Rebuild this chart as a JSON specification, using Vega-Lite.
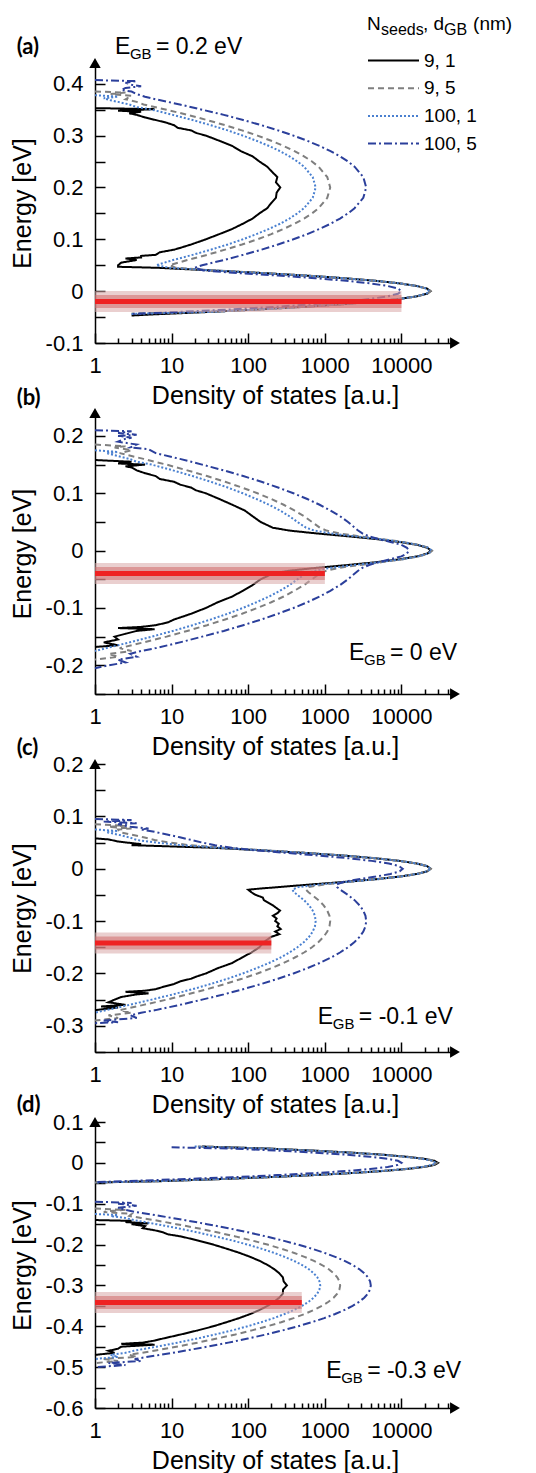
{
"$schema":"https://vega.github.io/schema/vega-lite/v6.json",
"background":"white",
"padding":{"left":10,"top":15,"right":0,"bottom":0},
"config":{"font":"Liberation Sans","view":{"stroke":null},
"axis":{"domainColor":"#000","domainWidth":1.5,"tickColor":"#000","tickWidth":1.5,"labelFont":"Liberation Sans","labelFontSize":22,"labelColor":"#000","titleFont":"Liberation Sans","titleFontSize":25,"titleFontWeight":"normal","titleColor":"#000","grid":false,"labelOverlap":false,"labelFlush":false,"labelBound":false}},
"datasets":{
"bars":[{"p":"a","e":-0.02,"d":1,"d2":10000},{"p":"b","e":-0.04,"d":1,"d2":1000},{"p":"c","e":-0.142,"d":1,"d2":200},{"p":"d","e":-0.342,"d":1,"d2":500}],
"arrows":[{"p":"a","k":"up","d":1,"e":0.44},{"p":"a","k":"right","d":50000,"e":-0.1},{"p":"b","k":"up","d":1,"e":0.24},{"p":"b","k":"right","d":50000,"e":-0.25},{"p":"c","k":"up","d":1,"e":0.2},{"p":"c","k":"right","d":50000,"e":-0.35},{"p":"d","k":"up","d":1,"e":0.1},{"p":"d","k":"right","d":50000,"e":-0.6}],
"lab":[{"p":"a","d":0.095,"e":0.4564,"v":"(a)"},{"p":"b","d":0.095,"e":0.254,"v":"(b)"},{"p":"c","d":0.095,"e":0.217,"v":"(c)"},{"p":"d","d":0.095,"e":0.1245,"v":"(d)"}],
"ann":[{"p":"a","d":1.82,"e":0.4564,"v":"= 0.2 eV"},{"p":"b","d":2065,"e":-0.1906,"v":"= 0 eV"},{"p":"c","d":811,"e":-0.296,"v":"= -0.1 eV"},{"p":"d","d":1040,"e":-0.526,"v":"= -0.3 eV"}],
"leg":[{"p":"a","d":3556,"e":0.5029}],
"curves":[
{"p":"a","s":"9, 1","e":0.353,"d":1},{"p":"a","s":"9, 1","e":0.351,"d":6},{"p":"a","s":"9, 1","e":0.348,"d":2},{"p":"a","s":"9, 1","e":0.346,"d":4},{"p":"a","s":"9, 1","e":0.343,"d":2.8},{"p":"a","s":"9, 1","e":0.34,"d":3.5},{"p":"a","s":"9, 1","e":0.335,"d":4.5},{"p":"a","s":"9, 1","e":0.33,"d":6.2},{"p":"a","s":"9, 1","e":0.325,"d":8.5},{"p":"a","s":"9, 1","e":0.32,"d":10.8},{"p":"a","s":"9, 1","e":0.315,"d":12},{"p":"a","s":"9, 1","e":0.31,"d":18},{"p":"a","s":"9, 1","e":0.305,"d":21},{"p":"a","s":"9, 1","e":0.3,"d":28},{"p":"a","s":"9, 1","e":0.29,"d":42},{"p":"a","s":"9, 1","e":0.28,"d":62},{"p":"a","s":"9, 1","e":0.27,"d":80},{"p":"a","s":"9, 1","e":0.26,"d":114},{"p":"a","s":"9, 1","e":0.25,"d":140},{"p":"a","s":"9, 1","e":0.24,"d":177},{"p":"a","s":"9, 1","e":0.23,"d":205},{"p":"a","s":"9, 1","e":0.22,"d":240},{"p":"a","s":"9, 1","e":0.21,"d":230},{"p":"a","s":"9, 1","e":0.2,"d":262},{"p":"a","s":"9, 1","e":0.19,"d":235},{"p":"a","s":"9, 1","e":0.18,"d":230},{"p":"a","s":"9, 1","e":0.17,"d":200},{"p":"a","s":"9, 1","e":0.16,"d":177},{"p":"a","s":"9, 1","e":0.15,"d":140},{"p":"a","s":"9, 1","e":0.14,"d":114},{"p":"a","s":"9, 1","e":0.13,"d":85},{"p":"a","s":"9, 1","e":0.12,"d":62},{"p":"a","s":"9, 1","e":0.11,"d":42},{"p":"a","s":"9, 1","e":0.1,"d":28},{"p":"a","s":"9, 1","e":0.09,"d":18},{"p":"a","s":"9, 1","e":0.085,"d":14},{"p":"a","s":"9, 1","e":0.08,"d":10.8},{"p":"a","s":"9, 1","e":0.075,"d":7},{"p":"a","s":"9, 1","e":0.07,"d":6.2},{"p":"a","s":"9, 1","e":0.068,"d":4},{"p":"a","s":"9, 1","e":0.065,"d":4},{"p":"a","s":"9, 1","e":0.063,"d":2.5},{"p":"a","s":"9, 1","e":0.06,"d":3.5},{"p":"a","s":"9, 1","e":0.055,"d":2.2},{"p":"a","s":"9, 1","e":0.05,"d":2},{"p":"a","s":"9, 1","e":0.047,"d":2},{"p":"a","s":"9, 1","e":0.045,"d":6.7},{"p":"a","s":"9, 1","e":0.04,"d":33},{"p":"a","s":"9, 1","e":0.035,"d":150},{"p":"a","s":"9, 1","e":0.03,"d":575},{"p":"a","s":"9, 1","e":0.025,"d":1800},{"p":"a","s":"9, 1","e":0.02,"d":4570},{"p":"a","s":"9, 1","e":0.015,"d":9400},{"p":"a","s":"9, 1","e":0.01,"d":15800},{"p":"a","s":"9, 1","e":0.005,"d":21600},{"p":"a","s":"9, 1","e":0,"d":24000},{"p":"a","s":"9, 1","e":-0.005,"d":21600},{"p":"a","s":"9, 1","e":-0.01,"d":15800},{"p":"a","s":"9, 1","e":-0.015,"d":9400},{"p":"a","s":"9, 1","e":-0.02,"d":4570},{"p":"a","s":"9, 1","e":-0.025,"d":1800},{"p":"a","s":"9, 1","e":-0.03,"d":575},{"p":"a","s":"9, 1","e":-0.035,"d":150},{"p":"a","s":"9, 1","e":-0.04,"d":32},{"p":"a","s":"9, 1","e":-0.045,"d":5.4},{"p":"a","s":"9, 1","e":-0.047,"d":3},
{"p":"a","s":"9, 5","e":0.385,"d":1},{"p":"a","s":"9, 5","e":0.383,"d":2.5},{"p":"a","s":"9, 5","e":0.38,"d":1.6},{"p":"a","s":"9, 5","e":0.377,"d":3},{"p":"a","s":"9, 5","e":0.37,"d":2.5},{"p":"a","s":"9, 5","e":0.365,"d":3.5},{"p":"a","s":"9, 5","e":0.36,"d":4.3},{"p":"a","s":"9, 5","e":0.355,"d":6},{"p":"a","s":"9, 5","e":0.35,"d":8.6},{"p":"a","s":"9, 5","e":0.34,"d":16},{"p":"a","s":"9, 5","e":0.33,"d":29},{"p":"a","s":"9, 5","e":0.32,"d":50},{"p":"a","s":"9, 5","e":0.31,"d":83},{"p":"a","s":"9, 5","e":0.3,"d":132},{"p":"a","s":"9, 5","e":0.29,"d":200},{"p":"a","s":"9, 5","e":0.28,"d":290},{"p":"a","s":"9, 5","e":0.27,"d":402},{"p":"a","s":"9, 5","e":0.26,"d":535},{"p":"a","s":"9, 5","e":0.25,"d":680},{"p":"a","s":"9, 5","e":0.24,"d":828},{"p":"a","s":"9, 5","e":0.22,"d":1076},{"p":"a","s":"9, 5","e":0.2,"d":1175},{"p":"a","s":"9, 5","e":0.18,"d":1076},{"p":"a","s":"9, 5","e":0.16,"d":828},{"p":"a","s":"9, 5","e":0.15,"d":680},{"p":"a","s":"9, 5","e":0.14,"d":535},{"p":"a","s":"9, 5","e":0.13,"d":402},{"p":"a","s":"9, 5","e":0.12,"d":290},{"p":"a","s":"9, 5","e":0.11,"d":200},{"p":"a","s":"9, 5","e":0.1,"d":132},{"p":"a","s":"9, 5","e":0.09,"d":83},{"p":"a","s":"9, 5","e":0.08,"d":50},{"p":"a","s":"9, 5","e":0.07,"d":29},{"p":"a","s":"9, 5","e":0.06,"d":16},{"p":"a","s":"9, 5","e":0.05,"d":9.4},{"p":"a","s":"9, 5","e":0.045,"d":11.4},{"p":"a","s":"9, 5","e":0.04,"d":36},{"p":"a","s":"9, 5","e":0.035,"d":152},{"p":"a","s":"9, 5","e":0.03,"d":576},{"p":"a","s":"9, 5","e":0.025,"d":1800},{"p":"a","s":"9, 5","e":0.02,"d":4570},{"p":"a","s":"9, 5","e":0.015,"d":9400},{"p":"a","s":"9, 5","e":0.01,"d":15800},{"p":"a","s":"9, 5","e":0.005,"d":21600},{"p":"a","s":"9, 5","e":0,"d":24000},{"p":"a","s":"9, 5","e":-0.005,"d":21600},{"p":"a","s":"9, 5","e":-0.01,"d":15800},{"p":"a","s":"9, 5","e":-0.015,"d":9400},{"p":"a","s":"9, 5","e":-0.02,"d":4570},{"p":"a","s":"9, 5","e":-0.025,"d":1800},{"p":"a","s":"9, 5","e":-0.03,"d":575},{"p":"a","s":"9, 5","e":-0.035,"d":150},{"p":"a","s":"9, 5","e":-0.04,"d":32},{"p":"a","s":"9, 5","e":-0.043,"d":3},
{"p":"a","s":"100, 1","e":0.378,"d":1},{"p":"a","s":"100, 1","e":0.375,"d":2},{"p":"a","s":"100, 1","e":0.372,"d":1.3},{"p":"a","s":"100, 1","e":0.368,"d":1.6},{"p":"a","s":"100, 1","e":0.365,"d":2},{"p":"a","s":"100, 1","e":0.36,"d":2.8},{"p":"a","s":"100, 1","e":0.355,"d":3.5},{"p":"a","s":"100, 1","e":0.35,"d":5.5},{"p":"a","s":"100, 1","e":0.34,"d":10.4},{"p":"a","s":"100, 1","e":0.33,"d":18.8},{"p":"a","s":"100, 1","e":0.32,"d":32.5},{"p":"a","s":"100, 1","e":0.31,"d":54},{"p":"a","s":"100, 1","e":0.3,"d":85},{"p":"a","s":"100, 1","e":0.29,"d":128},{"p":"a","s":"100, 1","e":0.28,"d":187},{"p":"a","s":"100, 1","e":0.27,"d":260},{"p":"a","s":"100, 1","e":0.26,"d":345},{"p":"a","s":"100, 1","e":0.25,"d":439},{"p":"a","s":"100, 1","e":0.24,"d":535},{"p":"a","s":"100, 1","e":0.22,"d":695},{"p":"a","s":"100, 1","e":0.2,"d":759},{"p":"a","s":"100, 1","e":0.18,"d":695},{"p":"a","s":"100, 1","e":0.16,"d":535},{"p":"a","s":"100, 1","e":0.15,"d":439},{"p":"a","s":"100, 1","e":0.14,"d":345},{"p":"a","s":"100, 1","e":0.13,"d":260},{"p":"a","s":"100, 1","e":0.12,"d":187},{"p":"a","s":"100, 1","e":0.11,"d":128},{"p":"a","s":"100, 1","e":0.1,"d":85},{"p":"a","s":"100, 1","e":0.09,"d":54},{"p":"a","s":"100, 1","e":0.08,"d":32.5},{"p":"a","s":"100, 1","e":0.07,"d":18.8},{"p":"a","s":"100, 1","e":0.06,"d":10.4},{"p":"a","s":"100, 1","e":0.05,"d":6.3},{"p":"a","s":"100, 1","e":0.045,"d":9.4},{"p":"a","s":"100, 1","e":0.04,"d":35},{"p":"a","s":"100, 1","e":0.035,"d":150},{"p":"a","s":"100, 1","e":0.03,"d":575},{"p":"a","s":"100, 1","e":0.025,"d":1800},{"p":"a","s":"100, 1","e":0.02,"d":4570},{"p":"a","s":"100, 1","e":0.015,"d":9400},{"p":"a","s":"100, 1","e":0.01,"d":15800},{"p":"a","s":"100, 1","e":0.005,"d":21000},{"p":"a","s":"100, 1","e":0,"d":23000},{"p":"a","s":"100, 1","e":-0.005,"d":21000},{"p":"a","s":"100, 1","e":-0.01,"d":15800},{"p":"a","s":"100, 1","e":-0.015,"d":9400},{"p":"a","s":"100, 1","e":-0.02,"d":4570},{"p":"a","s":"100, 1","e":-0.025,"d":1800},{"p":"a","s":"100, 1","e":-0.03,"d":575},{"p":"a","s":"100, 1","e":-0.035,"d":150},{"p":"a","s":"100, 1","e":-0.04,"d":32},{"p":"a","s":"100, 1","e":-0.044,"d":3},
{"p":"a","s":"100, 5","e":0.407,"d":1},{"p":"a","s":"100, 5","e":0.405,"d":3.5},{"p":"a","s":"100, 5","e":0.402,"d":2.5},{"p":"a","s":"100, 5","e":0.398,"d":3},{"p":"a","s":"100, 5","e":0.395,"d":4},{"p":"a","s":"100, 5","e":0.392,"d":2.5},{"p":"a","s":"100, 5","e":0.388,"d":2.2},{"p":"a","s":"100, 5","e":0.385,"d":3},{"p":"a","s":"100, 5","e":0.38,"d":3.5},{"p":"a","s":"100, 5","e":0.375,"d":4.5},{"p":"a","s":"100, 5","e":0.37,"d":6.2},{"p":"a","s":"100, 5","e":0.36,"d":12.8},{"p":"a","s":"100, 5","e":0.35,"d":25},{"p":"a","s":"100, 5","e":0.34,"d":48},{"p":"a","s":"100, 5","e":0.33,"d":86},{"p":"a","s":"100, 5","e":0.32,"d":149},{"p":"a","s":"100, 5","e":0.31,"d":245},{"p":"a","s":"100, 5","e":0.3,"d":389},{"p":"a","s":"100, 5","e":0.29,"d":590},{"p":"a","s":"100, 5","e":0.28,"d":855},{"p":"a","s":"100, 5","e":0.27,"d":1187},{"p":"a","s":"100, 5","e":0.26,"d":1578},{"p":"a","s":"100, 5","e":0.25,"d":2007},{"p":"a","s":"100, 5","e":0.24,"d":2443},{"p":"a","s":"100, 5","e":0.22,"d":3177},{"p":"a","s":"100, 5","e":0.2,"d":3467},{"p":"a","s":"100, 5","e":0.18,"d":3177},{"p":"a","s":"100, 5","e":0.16,"d":2443},{"p":"a","s":"100, 5","e":0.15,"d":2007},{"p":"a","s":"100, 5","e":0.14,"d":1578},{"p":"a","s":"100, 5","e":0.13,"d":1187},{"p":"a","s":"100, 5","e":0.12,"d":855},{"p":"a","s":"100, 5","e":0.11,"d":590},{"p":"a","s":"100, 5","e":0.1,"d":389},{"p":"a","s":"100, 5","e":0.09,"d":245},{"p":"a","s":"100, 5","e":0.08,"d":149},{"p":"a","s":"100, 5","e":0.07,"d":86},{"p":"a","s":"100, 5","e":0.06,"d":48},{"p":"a","s":"100, 5","e":0.05,"d":25},{"p":"a","s":"100, 5","e":0.045,"d":20},{"p":"a","s":"100, 5","e":0.04,"d":26},{"p":"a","s":"100, 5","e":0.035,"d":71},{"p":"a","s":"100, 5","e":0.03,"d":245},{"p":"a","s":"100, 5","e":0.025,"d":750},{"p":"a","s":"100, 5","e":0.02,"d":1900},{"p":"a","s":"100, 5","e":0.015,"d":3900},{"p":"a","s":"100, 5","e":0.01,"d":6600},{"p":"a","s":"100, 5","e":0.005,"d":9000},{"p":"a","s":"100, 5","e":0,"d":10000},{"p":"a","s":"100, 5","e":-0.005,"d":9000},{"p":"a","s":"100, 5","e":-0.01,"d":6600},{"p":"a","s":"100, 5","e":-0.015,"d":3900},{"p":"a","s":"100, 5","e":-0.02,"d":1900},{"p":"a","s":"100, 5","e":-0.025,"d":750},{"p":"a","s":"100, 5","e":-0.03,"d":240},{"p":"a","s":"100, 5","e":-0.035,"d":62},{"p":"a","s":"100, 5","e":-0.04,"d":13},{"p":"a","s":"100, 5","e":-0.044,"d":3},
{"p":"b","s":"9, 1","e":0.158,"d":1},{"p":"b","s":"9, 1","e":0.155,"d":3},{"p":"b","s":"9, 1","e":0.152,"d":2},{"p":"b","s":"9, 1","e":0.15,"d":4.5},{"p":"b","s":"9, 1","e":0.147,"d":2.5},{"p":"b","s":"9, 1","e":0.145,"d":3},{"p":"b","s":"9, 1","e":0.14,"d":3.5},{"p":"b","s":"9, 1","e":0.135,"d":4.5},{"p":"b","s":"9, 1","e":0.13,"d":6.2},{"p":"b","s":"9, 1","e":0.125,"d":7},{"p":"b","s":"9, 1","e":0.12,"d":10.8},{"p":"b","s":"9, 1","e":0.115,"d":13},{"p":"b","s":"9, 1","e":0.11,"d":18},{"p":"b","s":"9, 1","e":0.105,"d":21},{"p":"b","s":"9, 1","e":0.1,"d":28},{"p":"b","s":"9, 1","e":0.09,"d":42},{"p":"b","s":"9, 1","e":0.08,"d":62},{"p":"b","s":"9, 1","e":0.07,"d":90},{"p":"b","s":"9, 1","e":0.06,"d":114},{"p":"b","s":"9, 1","e":0.05,"d":145},{"p":"b","s":"9, 1","e":0.04,"d":209},{"p":"b","s":"9, 1","e":0.035,"d":342},{"p":"b","s":"9, 1","e":0.03,"d":781},{"p":"b","s":"9, 1","e":0.025,"d":2020},{"p":"b","s":"9, 1","e":0.02,"d":4800},{"p":"b","s":"9, 1","e":0.015,"d":9640},{"p":"b","s":"9, 1","e":0.01,"d":16045},{"p":"b","s":"9, 1","e":0.005,"d":21850},{"p":"b","s":"9, 1","e":0,"d":24250},{"p":"b","s":"9, 1","e":-0.005,"d":21850},{"p":"b","s":"9, 1","e":-0.01,"d":16045},{"p":"b","s":"9, 1","e":-0.015,"d":9640},{"p":"b","s":"9, 1","e":-0.02,"d":4800},{"p":"b","s":"9, 1","e":-0.025,"d":2020},{"p":"b","s":"9, 1","e":-0.03,"d":781},{"p":"b","s":"9, 1","e":-0.035,"d":342},{"p":"b","s":"9, 1","e":-0.04,"d":209},{"p":"b","s":"9, 1","e":-0.05,"d":145},{"p":"b","s":"9, 1","e":-0.06,"d":114},{"p":"b","s":"9, 1","e":-0.07,"d":85},{"p":"b","s":"9, 1","e":-0.08,"d":62},{"p":"b","s":"9, 1","e":-0.09,"d":40},{"p":"b","s":"9, 1","e":-0.1,"d":28},{"p":"b","s":"9, 1","e":-0.11,"d":18},{"p":"b","s":"9, 1","e":-0.115,"d":14},{"p":"b","s":"9, 1","e":-0.12,"d":10.8},{"p":"b","s":"9, 1","e":-0.125,"d":9},{"p":"b","s":"9, 1","e":-0.13,"d":6.2},{"p":"b","s":"9, 1","e":-0.133,"d":4},{"p":"b","s":"9, 1","e":-0.135,"d":2},{"p":"b","s":"9, 1","e":-0.137,"d":6},{"p":"b","s":"9, 1","e":-0.14,"d":3.5},{"p":"b","s":"9, 1","e":-0.145,"d":2.5},{"p":"b","s":"9, 1","e":-0.15,"d":1.8},{"p":"b","s":"9, 1","e":-0.155,"d":2},{"p":"b","s":"9, 1","e":-0.16,"d":1.3},{"p":"b","s":"9, 1","e":-0.165,"d":2},{"p":"b","s":"9, 1","e":-0.168,"d":1},
{"p":"b","s":"9, 5","e":0.185,"d":1},{"p":"b","s":"9, 5","e":0.182,"d":2.5},{"p":"b","s":"9, 5","e":0.18,"d":1.8},{"p":"b","s":"9, 5","e":0.175,"d":3},{"p":"b","s":"9, 5","e":0.17,"d":2.1},{"p":"b","s":"9, 5","e":0.165,"d":3},{"p":"b","s":"9, 5","e":0.16,"d":4.3},{"p":"b","s":"9, 5","e":0.155,"d":6},{"p":"b","s":"9, 5","e":0.15,"d":8.6},{"p":"b","s":"9, 5","e":0.14,"d":16},{"p":"b","s":"9, 5","e":0.13,"d":29},{"p":"b","s":"9, 5","e":0.12,"d":50},{"p":"b","s":"9, 5","e":0.11,"d":83},{"p":"b","s":"9, 5","e":0.1,"d":132},{"p":"b","s":"9, 5","e":0.09,"d":200},{"p":"b","s":"9, 5","e":0.08,"d":290},{"p":"b","s":"9, 5","e":0.07,"d":400},{"p":"b","s":"9, 5","e":0.06,"d":535},{"p":"b","s":"9, 5","e":0.05,"d":680},{"p":"b","s":"9, 5","e":0.04,"d":860},{"p":"b","s":"9, 5","e":0.035,"d":1050},{"p":"b","s":"9, 5","e":0.03,"d":1540},{"p":"b","s":"9, 5","e":0.025,"d":2826},{"p":"b","s":"9, 5","e":0.02,"d":5646},{"p":"b","s":"9, 5","e":0.015,"d":10519},{"p":"b","s":"9, 5","e":0.01,"d":16950},{"p":"b","s":"9, 5","e":0.005,"d":22770},{"p":"b","s":"9, 5","e":0,"d":25175},{"p":"b","s":"9, 5","e":-0.005,"d":22770},{"p":"b","s":"9, 5","e":-0.01,"d":16950},{"p":"b","s":"9, 5","e":-0.015,"d":10519},{"p":"b","s":"9, 5","e":-0.02,"d":5646},{"p":"b","s":"9, 5","e":-0.025,"d":2826},{"p":"b","s":"9, 5","e":-0.03,"d":1540},{"p":"b","s":"9, 5","e":-0.035,"d":1050},{"p":"b","s":"9, 5","e":-0.04,"d":860},{"p":"b","s":"9, 5","e":-0.05,"d":680},{"p":"b","s":"9, 5","e":-0.06,"d":535},{"p":"b","s":"9, 5","e":-0.07,"d":400},{"p":"b","s":"9, 5","e":-0.08,"d":290},{"p":"b","s":"9, 5","e":-0.09,"d":200},{"p":"b","s":"9, 5","e":-0.1,"d":132},{"p":"b","s":"9, 5","e":-0.11,"d":83},{"p":"b","s":"9, 5","e":-0.12,"d":50},{"p":"b","s":"9, 5","e":-0.13,"d":29},{"p":"b","s":"9, 5","e":-0.14,"d":16},{"p":"b","s":"9, 5","e":-0.15,"d":8.6},{"p":"b","s":"9, 5","e":-0.16,"d":4.3},{"p":"b","s":"9, 5","e":-0.17,"d":2.1},{"p":"b","s":"9, 5","e":-0.175,"d":3},{"p":"b","s":"9, 5","e":-0.18,"d":1.5},{"p":"b","s":"9, 5","e":-0.185,"d":2},{"p":"b","s":"9, 5","e":-0.19,"d":1},
{"p":"b","s":"100, 1","e":0.175,"d":1},{"p":"b","s":"100, 1","e":0.172,"d":2},{"p":"b","s":"100, 1","e":0.17,"d":1.4},{"p":"b","s":"100, 1","e":0.165,"d":2},{"p":"b","s":"100, 1","e":0.16,"d":2.8},{"p":"b","s":"100, 1","e":0.155,"d":3.5},{"p":"b","s":"100, 1","e":0.15,"d":5.5},{"p":"b","s":"100, 1","e":0.14,"d":10.4},{"p":"b","s":"100, 1","e":0.13,"d":18.8},{"p":"b","s":"100, 1","e":0.12,"d":32.5},{"p":"b","s":"100, 1","e":0.11,"d":54},{"p":"b","s":"100, 1","e":0.1,"d":85},{"p":"b","s":"100, 1","e":0.09,"d":128},{"p":"b","s":"100, 1","e":0.08,"d":187},{"p":"b","s":"100, 1","e":0.07,"d":260},{"p":"b","s":"100, 1","e":0.06,"d":345},{"p":"b","s":"100, 1","e":0.05,"d":439},{"p":"b","s":"100, 1","e":0.04,"d":567},{"p":"b","s":"100, 1","e":0.035,"d":731},{"p":"b","s":"100, 1","e":0.03,"d":1198},{"p":"b","s":"100, 1","e":0.025,"d":2462},{"p":"b","s":"100, 1","e":0.02,"d":5265},{"p":"b","s":"100, 1","e":0.015,"d":10123},{"p":"b","s":"100, 1","e":0.01,"d":16543},{"p":"b","s":"100, 1","e":0.005,"d":22355},{"p":"b","s":"100, 1","e":0,"d":24759},{"p":"b","s":"100, 1","e":-0.005,"d":22355},{"p":"b","s":"100, 1","e":-0.01,"d":16543},{"p":"b","s":"100, 1","e":-0.015,"d":10123},{"p":"b","s":"100, 1","e":-0.02,"d":5265},{"p":"b","s":"100, 1","e":-0.025,"d":2462},{"p":"b","s":"100, 1","e":-0.03,"d":1198},{"p":"b","s":"100, 1","e":-0.035,"d":731},{"p":"b","s":"100, 1","e":-0.04,"d":567},{"p":"b","s":"100, 1","e":-0.05,"d":439},{"p":"b","s":"100, 1","e":-0.06,"d":345},{"p":"b","s":"100, 1","e":-0.07,"d":260},{"p":"b","s":"100, 1","e":-0.08,"d":187},{"p":"b","s":"100, 1","e":-0.09,"d":128},{"p":"b","s":"100, 1","e":-0.1,"d":85},{"p":"b","s":"100, 1","e":-0.11,"d":54},{"p":"b","s":"100, 1","e":-0.12,"d":32.5},{"p":"b","s":"100, 1","e":-0.13,"d":18.8},{"p":"b","s":"100, 1","e":-0.14,"d":10.4},{"p":"b","s":"100, 1","e":-0.15,"d":5.5},{"p":"b","s":"100, 1","e":-0.16,"d":2.8},{"p":"b","s":"100, 1","e":-0.165,"d":2},{"p":"b","s":"100, 1","e":-0.17,"d":1.4},{"p":"b","s":"100, 1","e":-0.175,"d":1},
{"p":"b","s":"100, 5","e":0.21,"d":1},{"p":"b","s":"100, 5","e":0.208,"d":3},{"p":"b","s":"100, 5","e":0.205,"d":2},{"p":"b","s":"100, 5","e":0.202,"d":3.5},{"p":"b","s":"100, 5","e":0.2,"d":2},{"p":"b","s":"100, 5","e":0.197,"d":3},{"p":"b","s":"100, 5","e":0.195,"d":2.5},{"p":"b","s":"100, 5","e":0.19,"d":2},{"p":"b","s":"100, 5","e":0.185,"d":3.5},{"p":"b","s":"100, 5","e":0.18,"d":2.9},{"p":"b","s":"100, 5","e":0.177,"d":5},{"p":"b","s":"100, 5","e":0.17,"d":6.2},{"p":"b","s":"100, 5","e":0.16,"d":12.8},{"p":"b","s":"100, 5","e":0.15,"d":25},{"p":"b","s":"100, 5","e":0.14,"d":48},{"p":"b","s":"100, 5","e":0.13,"d":86},{"p":"b","s":"100, 5","e":0.12,"d":149},{"p":"b","s":"100, 5","e":0.11,"d":245},{"p":"b","s":"100, 5","e":0.1,"d":389},{"p":"b","s":"100, 5","e":0.09,"d":590},{"p":"b","s":"100, 5","e":0.08,"d":855},{"p":"b","s":"100, 5","e":0.07,"d":1180},{"p":"b","s":"100, 5","e":0.06,"d":1578},{"p":"b","s":"100, 5","e":0.05,"d":2007},{"p":"b","s":"100, 5","e":0.04,"d":2456},{"p":"b","s":"100, 5","e":0.035,"d":2717},{"p":"b","s":"100, 5","e":0.03,"d":3088},{"p":"b","s":"100, 5","e":0.025,"d":3777},{"p":"b","s":"100, 5","e":0.02,"d":5077},{"p":"b","s":"100, 5","e":0.015,"d":7204},{"p":"b","s":"100, 5","e":0.01,"d":9992},{"p":"b","s":"100, 5","e":0.005,"d":11800},{"p":"b","s":"100, 5","e":0,"d":12500},{"p":"b","s":"100, 5","e":-0.005,"d":11800},{"p":"b","s":"100, 5","e":-0.01,"d":9992},{"p":"b","s":"100, 5","e":-0.015,"d":7204},{"p":"b","s":"100, 5","e":-0.02,"d":5077},{"p":"b","s":"100, 5","e":-0.025,"d":3777},{"p":"b","s":"100, 5","e":-0.03,"d":3088},{"p":"b","s":"100, 5","e":-0.035,"d":2717},{"p":"b","s":"100, 5","e":-0.04,"d":2456},{"p":"b","s":"100, 5","e":-0.05,"d":2007},{"p":"b","s":"100, 5","e":-0.06,"d":1578},{"p":"b","s":"100, 5","e":-0.07,"d":1180},{"p":"b","s":"100, 5","e":-0.08,"d":855},{"p":"b","s":"100, 5","e":-0.09,"d":590},{"p":"b","s":"100, 5","e":-0.1,"d":389},{"p":"b","s":"100, 5","e":-0.11,"d":245},{"p":"b","s":"100, 5","e":-0.12,"d":149},{"p":"b","s":"100, 5","e":-0.13,"d":86},{"p":"b","s":"100, 5","e":-0.14,"d":48},{"p":"b","s":"100, 5","e":-0.15,"d":25},{"p":"b","s":"100, 5","e":-0.16,"d":12.8},{"p":"b","s":"100, 5","e":-0.17,"d":6.2},{"p":"b","s":"100, 5","e":-0.175,"d":4},{"p":"b","s":"100, 5","e":-0.18,"d":2.9},{"p":"b","s":"100, 5","e":-0.185,"d":3.5},{"p":"b","s":"100, 5","e":-0.19,"d":2},{"p":"b","s":"100, 5","e":-0.195,"d":2.5},{"p":"b","s":"100, 5","e":-0.2,"d":1.5},{"p":"b","s":"100, 5","e":-0.205,"d":1},
{"p":"c","s":"9, 1","e":0.058,"d":1},{"p":"c","s":"9, 1","e":0.056,"d":1.5},{"p":"c","s":"9, 1","e":0.052,"d":2},{"p":"c","s":"9, 1","e":0.05,"d":2.6},{"p":"c","s":"9, 1","e":0.047,"d":4},{"p":"c","s":"9, 1","e":0.045,"d":3},{"p":"c","s":"9, 1","e":0.043,"d":8},{"p":"c","s":"9, 1","e":0.04,"d":35.5},{"p":"c","s":"9, 1","e":0.035,"d":155},{"p":"c","s":"9, 1","e":0.03,"d":581},{"p":"c","s":"9, 1","e":0.025,"d":1808},{"p":"c","s":"9, 1","e":0.02,"d":4581},{"p":"c","s":"9, 1","e":0.015,"d":9410},{"p":"c","s":"9, 1","e":0.01,"d":15818},{"p":"c","s":"9, 1","e":0.005,"d":21620},{"p":"c","s":"9, 1","e":0,"d":24028},{"p":"c","s":"9, 1","e":-0.005,"d":21635},{"p":"c","s":"9, 1","e":-0.01,"d":15845},{"p":"c","s":"9, 1","e":-0.015,"d":9455},{"p":"c","s":"9, 1","e":-0.02,"d":4632},{"p":"c","s":"9, 1","e":-0.025,"d":1875},{"p":"c","s":"9, 1","e":-0.03,"d":664},{"p":"c","s":"9, 1","e":-0.035,"d":250},{"p":"c","s":"9, 1","e":-0.038,"d":140},{"p":"c","s":"9, 1","e":-0.04,"d":100},{"p":"c","s":"9, 1","e":-0.045,"d":110},{"p":"c","s":"9, 1","e":-0.05,"d":125},{"p":"c","s":"9, 1","e":-0.055,"d":155},{"p":"c","s":"9, 1","e":-0.06,"d":160},{"p":"c","s":"9, 1","e":-0.07,"d":210},{"p":"c","s":"9, 1","e":-0.08,"d":260},{"p":"c","s":"9, 1","e":-0.085,"d":240},{"p":"c","s":"9, 1","e":-0.09,"d":210},{"p":"c","s":"9, 1","e":-0.095,"d":235},{"p":"c","s":"9, 1","e":-0.1,"d":225},{"p":"c","s":"9, 1","e":-0.105,"d":250},{"p":"c","s":"9, 1","e":-0.11,"d":240},{"p":"c","s":"9, 1","e":-0.115,"d":265},{"p":"c","s":"9, 1","e":-0.12,"d":225},{"p":"c","s":"9, 1","e":-0.125,"d":255},{"p":"c","s":"9, 1","e":-0.13,"d":200},{"p":"c","s":"9, 1","e":-0.14,"d":160},{"p":"c","s":"9, 1","e":-0.15,"d":140},{"p":"c","s":"9, 1","e":-0.16,"d":110},{"p":"c","s":"9, 1","e":-0.17,"d":82},{"p":"c","s":"9, 1","e":-0.18,"d":62},{"p":"c","s":"9, 1","e":-0.19,"d":40},{"p":"c","s":"9, 1","e":-0.2,"d":28},{"p":"c","s":"9, 1","e":-0.205,"d":22},{"p":"c","s":"9, 1","e":-0.21,"d":18},{"p":"c","s":"9, 1","e":-0.215,"d":13},{"p":"c","s":"9, 1","e":-0.22,"d":10.8},{"p":"c","s":"9, 1","e":-0.225,"d":8},{"p":"c","s":"9, 1","e":-0.23,"d":6.2},{"p":"c","s":"9, 1","e":-0.233,"d":4.5},{"p":"c","s":"9, 1","e":-0.235,"d":2.5},{"p":"c","s":"9, 1","e":-0.238,"d":5},{"p":"c","s":"9, 1","e":-0.24,"d":3.5},{"p":"c","s":"9, 1","e":-0.245,"d":2.2},{"p":"c","s":"9, 1","e":-0.25,"d":1.8},{"p":"c","s":"9, 1","e":-0.255,"d":1.5},{"p":"c","s":"9, 1","e":-0.26,"d":2.5},{"p":"c","s":"9, 1","e":-0.263,"d":1.2},{"p":"c","s":"9, 1","e":-0.265,"d":2},{"p":"c","s":"9, 1","e":-0.27,"d":1},
{"p":"c","s":"9, 5","e":0.085,"d":1},{"p":"c","s":"9, 5","e":0.082,"d":2.5},{"p":"c","s":"9, 5","e":0.08,"d":1.5},{"p":"c","s":"9, 5","e":0.077,"d":3},{"p":"c","s":"9, 5","e":0.075,"d":2},{"p":"c","s":"9, 5","e":0.07,"d":2.1},{"p":"c","s":"9, 5","e":0.065,"d":3},{"p":"c","s":"9, 5","e":0.06,"d":4.3},{"p":"c","s":"9, 5","e":0.055,"d":6},{"p":"c","s":"9, 5","e":0.05,"d":9.4},{"p":"c","s":"9, 5","e":0.045,"d":17},{"p":"c","s":"9, 5","e":0.04,"d":48},{"p":"c","s":"9, 5","e":0.035,"d":172},{"p":"c","s":"9, 5","e":0.03,"d":604},{"p":"c","s":"9, 5","e":0.025,"d":1839},{"p":"c","s":"9, 5","e":0.02,"d":4620},{"p":"c","s":"9, 5","e":0.015,"d":9464},{"p":"c","s":"9, 5","e":0.01,"d":15883},{"p":"c","s":"9, 5","e":0.005,"d":21705},{"p":"c","s":"9, 5","e":0,"d":24132},{"p":"c","s":"9, 5","e":-0.005,"d":21763},{"p":"c","s":"9, 5","e":-0.01,"d":16005},{"p":"c","s":"9, 5","e":-0.015,"d":9642},{"p":"c","s":"9, 5","e":-0.02,"d":4860},{"p":"c","s":"9, 5","e":-0.025,"d":2143},{"p":"c","s":"9, 5","e":-0.03,"d":977},{"p":"c","s":"9, 5","e":-0.035,"d":617},{"p":"c","s":"9, 5","e":-0.04,"d":567},{"p":"c","s":"9, 5","e":-0.045,"d":612},{"p":"c","s":"9, 5","e":-0.05,"d":680},{"p":"c","s":"9, 5","e":-0.06,"d":828},{"p":"c","s":"9, 5","e":-0.07,"d":965},{"p":"c","s":"9, 5","e":-0.08,"d":1076},{"p":"c","s":"9, 5","e":-0.09,"d":1150},{"p":"c","s":"9, 5","e":-0.1,"d":1175},{"p":"c","s":"9, 5","e":-0.11,"d":1150},{"p":"c","s":"9, 5","e":-0.12,"d":1076},{"p":"c","s":"9, 5","e":-0.13,"d":965},{"p":"c","s":"9, 5","e":-0.14,"d":828},{"p":"c","s":"9, 5","e":-0.15,"d":680},{"p":"c","s":"9, 5","e":-0.16,"d":535},{"p":"c","s":"9, 5","e":-0.17,"d":400},{"p":"c","s":"9, 5","e":-0.18,"d":290},{"p":"c","s":"9, 5","e":-0.19,"d":200},{"p":"c","s":"9, 5","e":-0.2,"d":132},{"p":"c","s":"9, 5","e":-0.21,"d":83},{"p":"c","s":"9, 5","e":-0.22,"d":50},{"p":"c","s":"9, 5","e":-0.23,"d":29},{"p":"c","s":"9, 5","e":-0.24,"d":16},{"p":"c","s":"9, 5","e":-0.25,"d":8.6},{"p":"c","s":"9, 5","e":-0.26,"d":4.3},{"p":"c","s":"9, 5","e":-0.265,"d":3},{"p":"c","s":"9, 5","e":-0.27,"d":2.1},{"p":"c","s":"9, 5","e":-0.275,"d":3},{"p":"c","s":"9, 5","e":-0.28,"d":1.5},{"p":"c","s":"9, 5","e":-0.285,"d":2},{"p":"c","s":"9, 5","e":-0.29,"d":1},
{"p":"c","s":"100, 1","e":0.075,"d":1},{"p":"c","s":"100, 1","e":0.072,"d":2},{"p":"c","s":"100, 1","e":0.07,"d":1.4},{"p":"c","s":"100, 1","e":0.065,"d":2},{"p":"c","s":"100, 1","e":0.06,"d":2.8},{"p":"c","s":"100, 1","e":0.055,"d":3.5},{"p":"c","s":"100, 1","e":0.05,"d":6.3},{"p":"c","s":"100, 1","e":0.045,"d":13},{"p":"c","s":"100, 1","e":0.04,"d":42},{"p":"c","s":"100, 1","e":0.035,"d":164},{"p":"c","s":"100, 1","e":0.03,"d":594},{"p":"c","s":"100, 1","e":0.025,"d":1825},{"p":"c","s":"100, 1","e":0.02,"d":4603},{"p":"c","s":"100, 1","e":0.015,"d":9442},{"p":"c","s":"100, 1","e":0.01,"d":15854},{"p":"c","s":"100, 1","e":0.005,"d":21668},{"p":"c","s":"100, 1","e":0,"d":24085},{"p":"c","s":"100, 1","e":-0.005,"d":21705},{"p":"c","s":"100, 1","e":-0.01,"d":15933},{"p":"c","s":"100, 1","e":-0.015,"d":9556},{"p":"c","s":"100, 1","e":-0.02,"d":4757},{"p":"c","s":"100, 1","e":-0.025,"d":2022},{"p":"c","s":"100, 1","e":-0.03,"d":835},{"p":"c","s":"100, 1","e":-0.035,"d":451},{"p":"c","s":"100, 1","e":-0.04,"d":377},{"p":"c","s":"100, 1","e":-0.045,"d":397},{"p":"c","s":"100, 1","e":-0.05,"d":439},{"p":"c","s":"100, 1","e":-0.06,"d":535},{"p":"c","s":"100, 1","e":-0.07,"d":623},{"p":"c","s":"100, 1","e":-0.08,"d":695},{"p":"c","s":"100, 1","e":-0.09,"d":743},{"p":"c","s":"100, 1","e":-0.1,"d":759},{"p":"c","s":"100, 1","e":-0.11,"d":743},{"p":"c","s":"100, 1","e":-0.12,"d":695},{"p":"c","s":"100, 1","e":-0.13,"d":623},{"p":"c","s":"100, 1","e":-0.14,"d":535},{"p":"c","s":"100, 1","e":-0.15,"d":439},{"p":"c","s":"100, 1","e":-0.16,"d":345},{"p":"c","s":"100, 1","e":-0.17,"d":260},{"p":"c","s":"100, 1","e":-0.18,"d":187},{"p":"c","s":"100, 1","e":-0.19,"d":128},{"p":"c","s":"100, 1","e":-0.2,"d":85},{"p":"c","s":"100, 1","e":-0.21,"d":54},{"p":"c","s":"100, 1","e":-0.22,"d":32.5},{"p":"c","s":"100, 1","e":-0.23,"d":18.8},{"p":"c","s":"100, 1","e":-0.24,"d":10.4},{"p":"c","s":"100, 1","e":-0.25,"d":5.5},{"p":"c","s":"100, 1","e":-0.26,"d":2.8},{"p":"c","s":"100, 1","e":-0.265,"d":2},{"p":"c","s":"100, 1","e":-0.27,"d":1.4},{"p":"c","s":"100, 1","e":-0.275,"d":1},
{"p":"c","s":"100, 5","e":0.095,"d":1},{"p":"c","s":"100, 5","e":0.093,"d":3},{"p":"c","s":"100, 5","e":0.09,"d":1.3},{"p":"c","s":"100, 5","e":0.087,"d":3.5},{"p":"c","s":"100, 5","e":0.085,"d":2},{"p":"c","s":"100, 5","e":0.08,"d":2.9},{"p":"c","s":"100, 5","e":0.077,"d":5},{"p":"c","s":"100, 5","e":0.075,"d":4},{"p":"c","s":"100, 5","e":0.07,"d":6.2},{"p":"c","s":"100, 5","e":0.065,"d":9},{"p":"c","s":"100, 5","e":0.06,"d":12.8},{"p":"c","s":"100, 5","e":0.055,"d":18},{"p":"c","s":"100, 5","e":0.05,"d":25},{"p":"c","s":"100, 5","e":0.045,"d":37},{"p":"c","s":"100, 5","e":0.04,"d":61},{"p":"c","s":"100, 5","e":0.035,"d":126},{"p":"c","s":"100, 5","e":0.03,"d":326},{"p":"c","s":"100, 5","e":0.025,"d":864},{"p":"c","s":"100, 5","e":0.02,"d":2049},{"p":"c","s":"100, 5","e":0.015,"d":4092},{"p":"c","s":"100, 5","e":0.01,"d":6845},{"p":"c","s":"100, 5","e":0.005,"d":9311},{"p":"c","s":"100, 5","e":0,"d":10389},{"p":"c","s":"100, 5","e":-0.005,"d":9482},{"p":"c","s":"100, 5","e":-0.01,"d":7190},{"p":"c","s":"100, 5","e":-0.015,"d":4615},{"p":"c","s":"100, 5","e":-0.02,"d":2755},{"p":"c","s":"100, 5","e":-0.025,"d":1764},{"p":"c","s":"100, 5","e":-0.03,"d":1427},{"p":"c","s":"100, 5","e":-0.035,"d":1439},{"p":"c","s":"100, 5","e":-0.04,"d":1591},{"p":"c","s":"100, 5","e":-0.05,"d":2007},{"p":"c","s":"100, 5","e":-0.06,"d":2443},{"p":"c","s":"100, 5","e":-0.07,"d":2848},{"p":"c","s":"100, 5","e":-0.08,"d":3177},{"p":"c","s":"100, 5","e":-0.09,"d":3392},{"p":"c","s":"100, 5","e":-0.1,"d":3467},{"p":"c","s":"100, 5","e":-0.11,"d":3392},{"p":"c","s":"100, 5","e":-0.12,"d":3177},{"p":"c","s":"100, 5","e":-0.13,"d":2848},{"p":"c","s":"100, 5","e":-0.14,"d":2443},{"p":"c","s":"100, 5","e":-0.15,"d":2007},{"p":"c","s":"100, 5","e":-0.16,"d":1578},{"p":"c","s":"100, 5","e":-0.17,"d":1187},{"p":"c","s":"100, 5","e":-0.18,"d":855},{"p":"c","s":"100, 5","e":-0.19,"d":590},{"p":"c","s":"100, 5","e":-0.2,"d":389},{"p":"c","s":"100, 5","e":-0.21,"d":245},{"p":"c","s":"100, 5","e":-0.22,"d":149},{"p":"c","s":"100, 5","e":-0.23,"d":86},{"p":"c","s":"100, 5","e":-0.24,"d":48},{"p":"c","s":"100, 5","e":-0.25,"d":25},{"p":"c","s":"100, 5","e":-0.26,"d":12.8},{"p":"c","s":"100, 5","e":-0.27,"d":6.2},{"p":"c","s":"100, 5","e":-0.275,"d":4},{"p":"c","s":"100, 5","e":-0.28,"d":2.9},{"p":"c","s":"100, 5","e":-0.285,"d":3.5},{"p":"c","s":"100, 5","e":-0.29,"d":1.3},{"p":"c","s":"100, 5","e":-0.293,"d":2},{"p":"c","s":"100, 5","e":-0.295,"d":1},
{"p":"d","g":1,"s":"9, 1","e":0.04,"d":25},{"p":"d","g":1,"s":"9, 1","e":0.035,"d":187},{"p":"d","g":1,"s":"9, 1","e":0.03,"d":720},{"p":"d","g":1,"s":"9, 1","e":0.025,"d":2250},{"p":"d","g":1,"s":"9, 1","e":0.02,"d":5700},{"p":"d","g":1,"s":"9, 1","e":0.015,"d":11750},{"p":"d","g":1,"s":"9, 1","e":0.01,"d":19750},{"p":"d","g":1,"s":"9, 1","e":0.005,"d":27000},{"p":"d","g":1,"s":"9, 1","e":0,"d":30000},{"p":"d","g":1,"s":"9, 1","e":-0.005,"d":27000},{"p":"d","g":1,"s":"9, 1","e":-0.01,"d":19750},{"p":"d","g":1,"s":"9, 1","e":-0.015,"d":11750},{"p":"d","g":1,"s":"9, 1","e":-0.02,"d":5700},{"p":"d","g":1,"s":"9, 1","e":-0.025,"d":2250},{"p":"d","g":1,"s":"9, 1","e":-0.03,"d":720},{"p":"d","g":1,"s":"9, 1","e":-0.035,"d":187},{"p":"d","g":1,"s":"9, 1","e":-0.04,"d":40},{"p":"d","g":1,"s":"9, 1","e":-0.045,"d":6.8},{"p":"d","g":1,"s":"9, 1","e":-0.048,"d":1},
{"p":"d","g":2,"s":"9, 1","e":-0.14,"d":1},{"p":"d","g":2,"s":"9, 1","e":-0.142,"d":3},{"p":"d","g":2,"s":"9, 1","e":-0.145,"d":2.5},{"p":"d","g":2,"s":"9, 1","e":-0.148,"d":5},{"p":"d","g":2,"s":"9, 1","e":-0.15,"d":3},{"p":"d","g":2,"s":"9, 1","e":-0.155,"d":4.5},{"p":"d","g":2,"s":"9, 1","e":-0.16,"d":4.2},{"p":"d","g":2,"s":"9, 1","e":-0.165,"d":6},{"p":"d","g":2,"s":"9, 1","e":-0.17,"d":7.7},{"p":"d","g":2,"s":"9, 1","e":-0.175,"d":9},{"p":"d","g":2,"s":"9, 1","e":-0.18,"d":13.2},{"p":"d","g":2,"s":"9, 1","e":-0.19,"d":22},{"p":"d","g":2,"s":"9, 1","e":-0.2,"d":35},{"p":"d","g":2,"s":"9, 1","e":-0.21,"d":52},{"p":"d","g":2,"s":"9, 1","e":-0.22,"d":76},{"p":"d","g":2,"s":"9, 1","e":-0.23,"d":106},{"p":"d","g":2,"s":"9, 1","e":-0.24,"d":141},{"p":"d","g":2,"s":"9, 1","e":-0.25,"d":179},{"p":"d","g":2,"s":"9, 1","e":-0.26,"d":218},{"p":"d","g":2,"s":"9, 1","e":-0.27,"d":254},{"p":"d","g":2,"s":"9, 1","e":-0.28,"d":283},{"p":"d","g":2,"s":"9, 1","e":-0.29,"d":290},{"p":"d","g":2,"s":"9, 1","e":-0.3,"d":320},{"p":"d","g":2,"s":"9, 1","e":-0.31,"d":285},{"p":"d","g":2,"s":"9, 1","e":-0.32,"d":283},{"p":"d","g":2,"s":"9, 1","e":-0.33,"d":254},{"p":"d","g":2,"s":"9, 1","e":-0.34,"d":218},{"p":"d","g":2,"s":"9, 1","e":-0.35,"d":179},{"p":"d","g":2,"s":"9, 1","e":-0.36,"d":141},{"p":"d","g":2,"s":"9, 1","e":-0.37,"d":106},{"p":"d","g":2,"s":"9, 1","e":-0.38,"d":76},{"p":"d","g":2,"s":"9, 1","e":-0.39,"d":52},{"p":"d","g":2,"s":"9, 1","e":-0.4,"d":35},{"p":"d","g":2,"s":"9, 1","e":-0.41,"d":22},{"p":"d","g":2,"s":"9, 1","e":-0.42,"d":13.2},{"p":"d","g":2,"s":"9, 1","e":-0.43,"d":7.7},{"p":"d","g":2,"s":"9, 1","e":-0.435,"d":6},{"p":"d","g":2,"s":"9, 1","e":-0.44,"d":4.2},{"p":"d","g":2,"s":"9, 1","e":-0.443,"d":2.2},{"p":"d","g":2,"s":"9, 1","e":-0.445,"d":6},{"p":"d","g":2,"s":"9, 1","e":-0.45,"d":2.2},{"p":"d","g":2,"s":"9, 1","e":-0.455,"d":2},{"p":"d","g":2,"s":"9, 1","e":-0.46,"d":1.5},{"p":"d","g":2,"s":"9, 1","e":-0.465,"d":1.8},{"p":"d","g":2,"s":"9, 1","e":-0.47,"d":1},
{"p":"d","g":1,"s":"9, 5","e":0.04,"d":22},{"p":"d","g":1,"s":"9, 5","e":0.035,"d":180},{"p":"d","g":1,"s":"9, 5","e":0.03,"d":700},{"p":"d","g":1,"s":"9, 5","e":0.025,"d":2200},{"p":"d","g":1,"s":"9, 5","e":0.02,"d":5550},{"p":"d","g":1,"s":"9, 5","e":0.015,"d":11400},{"p":"d","g":1,"s":"9, 5","e":0.01,"d":19200},{"p":"d","g":1,"s":"9, 5","e":0.005,"d":26200},{"p":"d","g":1,"s":"9, 5","e":0,"d":29000},{"p":"d","g":1,"s":"9, 5","e":-0.005,"d":26200},{"p":"d","g":1,"s":"9, 5","e":-0.01,"d":19200},{"p":"d","g":1,"s":"9, 5","e":-0.015,"d":11400},{"p":"d","g":1,"s":"9, 5","e":-0.02,"d":5550},{"p":"d","g":1,"s":"9, 5","e":-0.025,"d":2200},{"p":"d","g":1,"s":"9, 5","e":-0.03,"d":700},{"p":"d","g":1,"s":"9, 5","e":-0.035,"d":180},{"p":"d","g":1,"s":"9, 5","e":-0.04,"d":38},{"p":"d","g":1,"s":"9, 5","e":-0.045,"d":6.5},{"p":"d","g":1,"s":"9, 5","e":-0.048,"d":1},
{"p":"d","g":2,"s":"9, 5","e":-0.112,"d":1},{"p":"d","g":2,"s":"9, 5","e":-0.115,"d":2.5},{"p":"d","g":2,"s":"9, 5","e":-0.118,"d":1.5},{"p":"d","g":2,"s":"9, 5","e":-0.12,"d":1.3},{"p":"d","g":2,"s":"9, 5","e":-0.125,"d":3},{"p":"d","g":2,"s":"9, 5","e":-0.13,"d":2.8},{"p":"d","g":2,"s":"9, 5","e":-0.135,"d":4},{"p":"d","g":2,"s":"9, 5","e":-0.14,"d":5.9},{"p":"d","g":2,"s":"9, 5","e":-0.15,"d":11.5},{"p":"d","g":2,"s":"9, 5","e":-0.16,"d":22},{"p":"d","g":2,"s":"9, 5","e":-0.17,"d":39},{"p":"d","g":2,"s":"9, 5","e":-0.18,"d":68},{"p":"d","g":2,"s":"9, 5","e":-0.19,"d":112},{"p":"d","g":2,"s":"9, 5","e":-0.2,"d":178},{"p":"d","g":2,"s":"9, 5","e":-0.21,"d":269},{"p":"d","g":2,"s":"9, 5","e":-0.22,"d":391},{"p":"d","g":2,"s":"9, 5","e":-0.23,"d":543},{"p":"d","g":2,"s":"9, 5","e":-0.24,"d":721},{"p":"d","g":2,"s":"9, 5","e":-0.25,"d":917},{"p":"d","g":2,"s":"9, 5","e":-0.26,"d":1117},{"p":"d","g":2,"s":"9, 5","e":-0.27,"d":1302},{"p":"d","g":2,"s":"9, 5","e":-0.28,"d":1452},{"p":"d","g":2,"s":"9, 5","e":-0.29,"d":1550},{"p":"d","g":2,"s":"9, 5","e":-0.3,"d":1585},{"p":"d","g":2,"s":"9, 5","e":-0.31,"d":1550},{"p":"d","g":2,"s":"9, 5","e":-0.32,"d":1452},{"p":"d","g":2,"s":"9, 5","e":-0.33,"d":1302},{"p":"d","g":2,"s":"9, 5","e":-0.34,"d":1117},{"p":"d","g":2,"s":"9, 5","e":-0.35,"d":917},{"p":"d","g":2,"s":"9, 5","e":-0.36,"d":721},{"p":"d","g":2,"s":"9, 5","e":-0.37,"d":543},{"p":"d","g":2,"s":"9, 5","e":-0.38,"d":391},{"p":"d","g":2,"s":"9, 5","e":-0.39,"d":269},{"p":"d","g":2,"s":"9, 5","e":-0.4,"d":178},{"p":"d","g":2,"s":"9, 5","e":-0.41,"d":112},{"p":"d","g":2,"s":"9, 5","e":-0.42,"d":68},{"p":"d","g":2,"s":"9, 5","e":-0.43,"d":39},{"p":"d","g":2,"s":"9, 5","e":-0.44,"d":22},{"p":"d","g":2,"s":"9, 5","e":-0.45,"d":11.5},{"p":"d","g":2,"s":"9, 5","e":-0.46,"d":5.9},{"p":"d","g":2,"s":"9, 5","e":-0.47,"d":2.8},{"p":"d","g":2,"s":"9, 5","e":-0.475,"d":3.5},{"p":"d","g":2,"s":"9, 5","e":-0.48,"d":1.3},{"p":"d","g":2,"s":"9, 5","e":-0.485,"d":2},{"p":"d","g":2,"s":"9, 5","e":-0.49,"d":1},
{"p":"d","g":1,"s":"100, 1","e":0.04,"d":20},{"p":"d","g":1,"s":"100, 1","e":0.035,"d":175},{"p":"d","g":1,"s":"100, 1","e":0.03,"d":680},{"p":"d","g":1,"s":"100, 1","e":0.025,"d":2150},{"p":"d","g":1,"s":"100, 1","e":0.02,"d":5400},{"p":"d","g":1,"s":"100, 1","e":0.015,"d":11000},{"p":"d","g":1,"s":"100, 1","e":0.01,"d":18600},{"p":"d","g":1,"s":"100, 1","e":0.005,"d":25300},{"p":"d","g":1,"s":"100, 1","e":0,"d":28000},{"p":"d","g":1,"s":"100, 1","e":-0.005,"d":25300},{"p":"d","g":1,"s":"100, 1","e":-0.01,"d":18600},{"p":"d","g":1,"s":"100, 1","e":-0.015,"d":11000},{"p":"d","g":1,"s":"100, 1","e":-0.02,"d":5400},{"p":"d","g":1,"s":"100, 1","e":-0.025,"d":2150},{"p":"d","g":1,"s":"100, 1","e":-0.03,"d":680},{"p":"d","g":1,"s":"100, 1","e":-0.035,"d":175},{"p":"d","g":1,"s":"100, 1","e":-0.04,"d":36},{"p":"d","g":1,"s":"100, 1","e":-0.045,"d":6},{"p":"d","g":1,"s":"100, 1","e":-0.048,"d":1},
{"p":"d","g":2,"s":"100, 1","e":-0.125,"d":1},{"p":"d","g":2,"s":"100, 1","e":-0.128,"d":2},{"p":"d","g":2,"s":"100, 1","e":-0.13,"d":1.6},{"p":"d","g":2,"s":"100, 1","e":-0.135,"d":2.5},{"p":"d","g":2,"s":"100, 1","e":-0.14,"d":3.2},{"p":"d","g":2,"s":"100, 1","e":-0.145,"d":4.5},{"p":"d","g":2,"s":"100, 1","e":-0.15,"d":6.3},{"p":"d","g":2,"s":"100, 1","e":-0.16,"d":12},{"p":"d","g":2,"s":"100, 1","e":-0.17,"d":21.6},{"p":"d","g":2,"s":"100, 1","e":-0.18,"d":37},{"p":"d","g":2,"s":"100, 1","e":-0.19,"d":62},{"p":"d","g":2,"s":"100, 1","e":-0.2,"d":98},{"p":"d","g":2,"s":"100, 1","e":-0.21,"d":148},{"p":"d","g":2,"s":"100, 1","e":-0.22,"d":215},{"p":"d","g":2,"s":"100, 1","e":-0.23,"d":298},{"p":"d","g":2,"s":"100, 1","e":-0.24,"d":396},{"p":"d","g":2,"s":"100, 1","e":-0.25,"d":505},{"p":"d","g":2,"s":"100, 1","e":-0.26,"d":614},{"p":"d","g":2,"s":"100, 1","e":-0.27,"d":714},{"p":"d","g":2,"s":"100, 1","e":-0.28,"d":798},{"p":"d","g":2,"s":"100, 1","e":-0.29,"d":850},{"p":"d","g":2,"s":"100, 1","e":-0.3,"d":871},{"p":"d","g":2,"s":"100, 1","e":-0.31,"d":850},{"p":"d","g":2,"s":"100, 1","e":-0.32,"d":798},{"p":"d","g":2,"s":"100, 1","e":-0.33,"d":714},{"p":"d","g":2,"s":"100, 1","e":-0.34,"d":614},{"p":"d","g":2,"s":"100, 1","e":-0.35,"d":505},{"p":"d","g":2,"s":"100, 1","e":-0.36,"d":396},{"p":"d","g":2,"s":"100, 1","e":-0.37,"d":298},{"p":"d","g":2,"s":"100, 1","e":-0.38,"d":215},{"p":"d","g":2,"s":"100, 1","e":-0.39,"d":148},{"p":"d","g":2,"s":"100, 1","e":-0.4,"d":98},{"p":"d","g":2,"s":"100, 1","e":-0.41,"d":62},{"p":"d","g":2,"s":"100, 1","e":-0.42,"d":37},{"p":"d","g":2,"s":"100, 1","e":-0.43,"d":21.6},{"p":"d","g":2,"s":"100, 1","e":-0.44,"d":12},{"p":"d","g":2,"s":"100, 1","e":-0.45,"d":6.3},{"p":"d","g":2,"s":"100, 1","e":-0.46,"d":3.2},{"p":"d","g":2,"s":"100, 1","e":-0.465,"d":2.5},{"p":"d","g":2,"s":"100, 1","e":-0.47,"d":1.6},{"p":"d","g":2,"s":"100, 1","e":-0.475,"d":2},{"p":"d","g":2,"s":"100, 1","e":-0.48,"d":1},
{"p":"d","g":1,"s":"100, 5","e":0.038,"d":10},{"p":"d","g":1,"s":"100, 5","e":0.035,"d":62},{"p":"d","g":1,"s":"100, 5","e":0.03,"d":240},{"p":"d","g":1,"s":"100, 5","e":0.025,"d":750},{"p":"d","g":1,"s":"100, 5","e":0.02,"d":1900},{"p":"d","g":1,"s":"100, 5","e":0.015,"d":3900},{"p":"d","g":1,"s":"100, 5","e":0.01,"d":6600},{"p":"d","g":1,"s":"100, 5","e":0.005,"d":9000},{"p":"d","g":1,"s":"100, 5","e":0,"d":10000},{"p":"d","g":1,"s":"100, 5","e":-0.005,"d":9000},{"p":"d","g":1,"s":"100, 5","e":-0.01,"d":6600},{"p":"d","g":1,"s":"100, 5","e":-0.015,"d":3900},{"p":"d","g":1,"s":"100, 5","e":-0.02,"d":1900},{"p":"d","g":1,"s":"100, 5","e":-0.025,"d":750},{"p":"d","g":1,"s":"100, 5","e":-0.03,"d":240},{"p":"d","g":1,"s":"100, 5","e":-0.035,"d":62},{"p":"d","g":1,"s":"100, 5","e":-0.04,"d":13},{"p":"d","g":1,"s":"100, 5","e":-0.045,"d":2.3},{"p":"d","g":1,"s":"100, 5","e":-0.047,"d":1},
{"p":"d","g":2,"s":"100, 5","e":-0.095,"d":1},{"p":"d","g":2,"s":"100, 5","e":-0.098,"d":3},{"p":"d","g":2,"s":"100, 5","e":-0.1,"d":2},{"p":"d","g":2,"s":"100, 5","e":-0.105,"d":3.5},{"p":"d","g":2,"s":"100, 5","e":-0.11,"d":2},{"p":"d","g":2,"s":"100, 5","e":-0.115,"d":2.5},{"p":"d","g":2,"s":"100, 5","e":-0.12,"d":3.3},{"p":"d","g":2,"s":"100, 5","e":-0.13,"d":7.1},{"p":"d","g":2,"s":"100, 5","e":-0.14,"d":14.7},{"p":"d","g":2,"s":"100, 5","e":-0.15,"d":29},{"p":"d","g":2,"s":"100, 5","e":-0.16,"d":55},{"p":"d","g":2,"s":"100, 5","e":-0.17,"d":99},{"p":"d","g":2,"s":"100, 5","e":-0.18,"d":171},{"p":"d","g":2,"s":"100, 5","e":-0.19,"d":282},{"p":"d","g":2,"s":"100, 5","e":-0.2,"d":447},{"p":"d","g":2,"s":"100, 5","e":-0.21,"d":677},{"p":"d","g":2,"s":"100, 5","e":-0.22,"d":982},{"p":"d","g":2,"s":"100, 5","e":-0.23,"d":1363},{"p":"d","g":2,"s":"100, 5","e":-0.24,"d":1811},{"p":"d","g":2,"s":"100, 5","e":-0.25,"d":2304},{"p":"d","g":2,"s":"100, 5","e":-0.26,"d":2805},{"p":"d","g":2,"s":"100, 5","e":-0.27,"d":3270},{"p":"d","g":2,"s":"100, 5","e":-0.28,"d":3648},{"p":"d","g":2,"s":"100, 5","e":-0.29,"d":3895},{"p":"d","g":2,"s":"100, 5","e":-0.3,"d":3981},{"p":"d","g":2,"s":"100, 5","e":-0.31,"d":3895},{"p":"d","g":2,"s":"100, 5","e":-0.32,"d":3648},{"p":"d","g":2,"s":"100, 5","e":-0.33,"d":3270},{"p":"d","g":2,"s":"100, 5","e":-0.34,"d":2805},{"p":"d","g":2,"s":"100, 5","e":-0.35,"d":2304},{"p":"d","g":2,"s":"100, 5","e":-0.36,"d":1811},{"p":"d","g":2,"s":"100, 5","e":-0.37,"d":1363},{"p":"d","g":2,"s":"100, 5","e":-0.38,"d":982},{"p":"d","g":2,"s":"100, 5","e":-0.39,"d":677},{"p":"d","g":2,"s":"100, 5","e":-0.4,"d":447},{"p":"d","g":2,"s":"100, 5","e":-0.41,"d":282},{"p":"d","g":2,"s":"100, 5","e":-0.42,"d":171},{"p":"d","g":2,"s":"100, 5","e":-0.43,"d":99},{"p":"d","g":2,"s":"100, 5","e":-0.44,"d":55},{"p":"d","g":2,"s":"100, 5","e":-0.45,"d":29},{"p":"d","g":2,"s":"100, 5","e":-0.46,"d":14.7},{"p":"d","g":2,"s":"100, 5","e":-0.47,"d":7.1},{"p":"d","g":2,"s":"100, 5","e":-0.48,"d":3.3},{"p":"d","g":2,"s":"100, 5","e":-0.485,"d":4},{"p":"d","g":2,"s":"100, 5","e":-0.49,"d":1.5},{"p":"d","g":2,"s":"100, 5","e":-0.495,"d":2.5},{"p":"d","g":2,"s":"100, 5","e":-0.5,"d":1}
]},
"resolve":{"scale":{"color":"independent","strokeDash":"independent"},"legend":{"color":"independent","strokeDash":"independent"}},
"bounds":"flush",
"spacing":70,
"vconcat":[
{"width":360,"height":280,
"encoding":{
"x":{"field":"d","type":"quantitative","scale":{"type":"log","domain":[1,50000],"nice":false},"axis":{"values":[1,2,3,4,5,6,7,8,9,10,20,30,40,50,60,70,80,90,100,200,300,400,500,600,700,800,900,1000,2000,3000,4000,5000,6000,7000,8000,9000,10000,20000,30000,40000],"format":"d","labelExpr":"indexof([1,10,100,1000,10000], datum.value) >= 0 ? datum.label : ''","tickSize":{"condition":{"test":"indexof([1,10,100,1000,10000], datum.value) >= 0","value":-10},"value":-5},"labelPadding":22,"title":"Density of states [a.u.]","titlePadding":2}},
"y":{"field":"e","type":"quantitative","scale":{"domain":[-0.1,0.44],"nice":false,"zero":false},"axis":{"values":[-0.1,-0.05,0,0.05,0.1,0.15,0.2,0.25,0.3,0.35,0.4],"labelExpr":"round(datum.value*20) % 2 != 0 ? '' : (datum.value < -0.001 ? '-' : '') + format(abs(datum.value), '.1~f')","tickSize":-10,"labelPadding":22,"title":"Energy [eV]","titlePadding":10}}},
"layer":[
{"data":{"name":"curves"},"transform":[{"filter":"datum.p=='a'"}],"mark":{"type":"line","strokeWidth":2},"encoding":{"color":{"field":"s","type":"nominal","scale":{"domain":["9, 1","9, 5","100, 1","100, 5"],"range":["#000000","#7f7f7f","#4a80d0","#2b3f9b"]},"legend":{"orient":"none","legendX":272,"legendY":-13.5,"title":null,"symbolType":"stroke","symbolSize":2601,"symbolStrokeWidth":2,"labelFontSize":19,"labelFont":"Liberation Sans","labelColor":"#000","clipHeight":22,"rowPadding":5.7,"labelOffset":4,"padding":0}},"strokeDash":{"field":"s","type":"nominal","scale":{"domain":["9, 1","9, 5","100, 1","100, 5"],"range":[[1,0],[6,4],[2,2],[8,3,2,3]]},"legend":{"orient":"none","legendX":272,"legendY":-13.5,"title":null,"symbolType":"stroke","symbolSize":2601,"symbolStrokeWidth":2,"labelFontSize":19,"labelFont":"Liberation Sans","labelColor":"#000","clipHeight":22,"rowPadding":5.7,"labelOffset":4,"padding":0}},"order":{"field":"e","sort":"descending"}}},
{"data":{"name":"bars"},"transform":[{"filter":"datum.p=='a'"}],"mark":{"type":"rule","strokeWidth":21,"color":"#d8a8a8","opacity":0.55,"strokeCap":"butt"},"encoding":{"x2":{"field":"d2"}}},
{"data":{"name":"bars"},"transform":[{"filter":"datum.p=='a'"}],"mark":{"type":"rule","strokeWidth":13,"color":"#d06a6a","opacity":0.55,"strokeCap":"butt"},"encoding":{"x2":{"field":"d2"}}},
{"data":{"name":"bars"},"transform":[{"filter":"datum.p=='a'"}],"mark":{"type":"rule","strokeWidth":5,"color":"#ee2222","opacity":1,"strokeCap":"butt"},"encoding":{"x2":{"field":"d2"}}},
{"data":{"name":"arrows"},"transform":[{"filter":"datum.p=='a' && datum.k=='up'"}],"mark":{"type":"point","shape":"triangle-up","filled":true,"size":130,"color":"#000","opacity":1}},
{"data":{"name":"arrows"},"transform":[{"filter":"datum.p=='a' && datum.k=='right'"}],"mark":{"type":"point","shape":"triangle-right","filled":true,"size":130,"color":"#000","opacity":1}},
{"data":{"name":"lab"},"transform":[{"filter":"datum.p=='a'"}],"mark":{"type":"text","align":"left","baseline":"alphabetic","font":"Lato","fontWeight":"bold","fontSize":22,"color":"#000"},"encoding":{"text":{"field":"v"}}},
{"data":{"name":"ann"},"transform":[{"filter":"datum.p=='a'"}],"mark":{"type":"text","text":"E","align":"left","baseline":"alphabetic","fontSize":23,"color":"#000"}},
{"data":{"name":"ann"},"transform":[{"filter":"datum.p=='a'"}],"mark":{"type":"text","text":"GB","align":"left","baseline":"alphabetic","fontSize":15,"dx":15,"dy":5,"color":"#000"}},
{"data":{"name":"ann"},"transform":[{"filter":"datum.p=='a'"}],"mark":{"type":"text","align":"left","baseline":"alphabetic","fontSize":23,"dx":41,"color":"#000"},"encoding":{"text":{"field":"v"}}},
{"data":{"name":"leg"},"mark":{"type":"text","text":"N","align":"left","baseline":"alphabetic","fontSize":19,"color":"#000"}},
{"data":{"name":"leg"},"mark":{"type":"text","text":"seeds","align":"left","baseline":"alphabetic","fontSize":16,"dx":14,"dy":5,"color":"#000"}},
{"data":{"name":"leg"},"mark":{"type":"text","text":", d","align":"left","baseline":"alphabetic","fontSize":19,"dx":56,"color":"#000"}},
{"data":{"name":"leg"},"mark":{"type":"text","text":"GB","align":"left","baseline":"alphabetic","fontSize":16,"dx":77,"dy":5,"color":"#000"}},
{"data":{"name":"leg"},"mark":{"type":"text","text":"(nm)","align":"left","baseline":"alphabetic","fontSize":19,"dx":106,"color":"#000"}}
]},
{"width":360,"height":281,
"encoding":{
"x":{"field":"d","type":"quantitative","scale":{"type":"log","domain":[1,50000],"nice":false},"axis":{"values":[1,2,3,4,5,6,7,8,9,10,20,30,40,50,60,70,80,90,100,200,300,400,500,600,700,800,900,1000,2000,3000,4000,5000,6000,7000,8000,9000,10000,20000,30000,40000],"format":"d","labelExpr":"indexof([1,10,100,1000,10000], datum.value) >= 0 ? datum.label : ''","tickSize":{"condition":{"test":"indexof([1,10,100,1000,10000], datum.value) >= 0","value":-10},"value":-5},"labelPadding":22,"title":"Density of states [a.u.]","titlePadding":2}},
"y":{"field":"e","type":"quantitative","scale":{"domain":[-0.25,0.24],"nice":false,"zero":false},"axis":{"values":[-0.25,-0.2,-0.15,-0.1,-0.05,0,0.05,0.1,0.15,0.2],"labelExpr":"round(datum.value*20) % 2 != 0 ? '' : (datum.value < -0.001 ? '-' : '') + format(abs(datum.value), '.1~f')","tickSize":-10,"labelPadding":22,"title":"Energy [eV]","titlePadding":10}}},
"layer":[
{"data":{"name":"curves"},"transform":[{"filter":"datum.p=='b'"}],"mark":{"type":"line","strokeWidth":2},"encoding":{"color":{"field":"s","type":"nominal","scale":{"domain":["9, 1","9, 5","100, 1","100, 5"],"range":["#000000","#7f7f7f","#4a80d0","#2b3f9b"]},"legend":null},"strokeDash":{"field":"s","type":"nominal","scale":{"domain":["9, 1","9, 5","100, 1","100, 5"],"range":[[1,0],[6,4],[2,2],[8,3,2,3]]},"legend":null},"order":{"field":"e","sort":"descending"}}},
{"data":{"name":"bars"},"transform":[{"filter":"datum.p=='b'"}],"mark":{"type":"rule","strokeWidth":21,"color":"#d8a8a8","opacity":0.55,"strokeCap":"butt"},"encoding":{"x2":{"field":"d2"}}},
{"data":{"name":"bars"},"transform":[{"filter":"datum.p=='b'"}],"mark":{"type":"rule","strokeWidth":13,"color":"#d06a6a","opacity":0.55,"strokeCap":"butt"},"encoding":{"x2":{"field":"d2"}}},
{"data":{"name":"bars"},"transform":[{"filter":"datum.p=='b'"}],"mark":{"type":"rule","strokeWidth":5,"color":"#ee2222","opacity":1,"strokeCap":"butt"},"encoding":{"x2":{"field":"d2"}}},
{"data":{"name":"arrows"},"transform":[{"filter":"datum.p=='b' && datum.k=='up'"}],"mark":{"type":"point","shape":"triangle-up","filled":true,"size":130,"color":"#000","opacity":1}},
{"data":{"name":"arrows"},"transform":[{"filter":"datum.p=='b' && datum.k=='right'"}],"mark":{"type":"point","shape":"triangle-right","filled":true,"size":130,"color":"#000","opacity":1}},
{"data":{"name":"lab"},"transform":[{"filter":"datum.p=='b'"}],"mark":{"type":"text","align":"left","baseline":"alphabetic","font":"Lato","fontWeight":"bold","fontSize":22,"color":"#000"},"encoding":{"text":{"field":"v"}}},
{"data":{"name":"ann"},"transform":[{"filter":"datum.p=='b'"}],"mark":{"type":"text","text":"E","align":"left","baseline":"alphabetic","fontSize":23,"color":"#000"}},
{"data":{"name":"ann"},"transform":[{"filter":"datum.p=='b'"}],"mark":{"type":"text","text":"GB","align":"left","baseline":"alphabetic","fontSize":15,"dx":15,"dy":5,"color":"#000"}},
{"data":{"name":"ann"},"transform":[{"filter":"datum.p=='b'"}],"mark":{"type":"text","align":"left","baseline":"alphabetic","fontSize":23,"dx":41,"color":"#000"},"encoding":{"text":{"field":"v"}}}
]},
{"width":360,"height":288,
"encoding":{
"x":{"field":"d","type":"quantitative","scale":{"type":"log","domain":[1,50000],"nice":false},"axis":{"values":[1,2,3,4,5,6,7,8,9,10,20,30,40,50,60,70,80,90,100,200,300,400,500,600,700,800,900,1000,2000,3000,4000,5000,6000,7000,8000,9000,10000,20000,30000,40000],"format":"d","labelExpr":"indexof([1,10,100,1000,10000], datum.value) >= 0 ? datum.label : ''","tickSize":{"condition":{"test":"indexof([1,10,100,1000,10000], datum.value) >= 0","value":-10},"value":-5},"labelPadding":22,"title":"Density of states [a.u.]","titlePadding":2}},
"y":{"field":"e","type":"quantitative","scale":{"domain":[-0.35,0.2],"nice":false,"zero":false},"axis":{"values":[-0.35,-0.3,-0.25,-0.2,-0.15,-0.1,-0.05,0,0.05,0.1,0.15,0.2],"labelExpr":"round(datum.value*20) % 2 != 0 ? '' : (datum.value < -0.001 ? '-' : '') + format(abs(datum.value), '.1~f')","tickSize":-10,"labelPadding":22,"title":"Energy [eV]","titlePadding":10}}},
"layer":[
{"data":{"name":"curves"},"transform":[{"filter":"datum.p=='c'"}],"mark":{"type":"line","strokeWidth":2},"encoding":{"color":{"field":"s","type":"nominal","scale":{"domain":["9, 1","9, 5","100, 1","100, 5"],"range":["#000000","#7f7f7f","#4a80d0","#2b3f9b"]},"legend":null},"strokeDash":{"field":"s","type":"nominal","scale":{"domain":["9, 1","9, 5","100, 1","100, 5"],"range":[[1,0],[6,4],[2,2],[8,3,2,3]]},"legend":null},"order":{"field":"e","sort":"descending"}}},
{"data":{"name":"bars"},"transform":[{"filter":"datum.p=='c'"}],"mark":{"type":"rule","strokeWidth":21,"color":"#d8a8a8","opacity":0.55,"strokeCap":"butt"},"encoding":{"x2":{"field":"d2"}}},
{"data":{"name":"bars"},"transform":[{"filter":"datum.p=='c'"}],"mark":{"type":"rule","strokeWidth":13,"color":"#d06a6a","opacity":0.55,"strokeCap":"butt"},"encoding":{"x2":{"field":"d2"}}},
{"data":{"name":"bars"},"transform":[{"filter":"datum.p=='c'"}],"mark":{"type":"rule","strokeWidth":5,"color":"#ee2222","opacity":1,"strokeCap":"butt"},"encoding":{"x2":{"field":"d2"}}},
{"data":{"name":"arrows"},"transform":[{"filter":"datum.p=='c' && datum.k=='up'"}],"mark":{"type":"point","shape":"triangle-up","filled":true,"size":130,"color":"#000","opacity":1}},
{"data":{"name":"arrows"},"transform":[{"filter":"datum.p=='c' && datum.k=='right'"}],"mark":{"type":"point","shape":"triangle-right","filled":true,"size":130,"color":"#000","opacity":1}},
{"data":{"name":"lab"},"transform":[{"filter":"datum.p=='c'"}],"mark":{"type":"text","align":"left","baseline":"alphabetic","font":"Lato","fontWeight":"bold","fontSize":22,"color":"#000"},"encoding":{"text":{"field":"v"}}},
{"data":{"name":"ann"},"transform":[{"filter":"datum.p=='c'"}],"mark":{"type":"text","text":"E","align":"left","baseline":"alphabetic","fontSize":23,"color":"#000"}},
{"data":{"name":"ann"},"transform":[{"filter":"datum.p=='c'"}],"mark":{"type":"text","text":"GB","align":"left","baseline":"alphabetic","fontSize":15,"dx":15,"dy":5,"color":"#000"}},
{"data":{"name":"ann"},"transform":[{"filter":"datum.p=='c'"}],"mark":{"type":"text","align":"left","baseline":"alphabetic","fontSize":23,"dx":41,"color":"#000"},"encoding":{"text":{"field":"v"}}}
]},
{"width":360,"height":286,
"encoding":{
"x":{"field":"d","type":"quantitative","scale":{"type":"log","domain":[1,50000],"nice":false},"axis":{"values":[1,2,3,4,5,6,7,8,9,10,20,30,40,50,60,70,80,90,100,200,300,400,500,600,700,800,900,1000,2000,3000,4000,5000,6000,7000,8000,9000,10000,20000,30000,40000],"format":"d","labelExpr":"indexof([1,10,100,1000,10000], datum.value) >= 0 ? datum.label : ''","tickSize":{"condition":{"test":"indexof([1,10,100,1000,10000], datum.value) >= 0","value":-10},"value":-5},"labelPadding":22,"title":"Density of states [a.u.]","titlePadding":2}},
"y":{"field":"e","type":"quantitative","scale":{"domain":[-0.6,0.1],"nice":false,"zero":false},"axis":{"values":[-0.6,-0.55,-0.5,-0.45,-0.4,-0.35,-0.3,-0.25,-0.2,-0.15,-0.1,-0.05,0,0.05,0.1],"labelExpr":"round(datum.value*20) % 2 != 0 ? '' : (datum.value < -0.001 ? '-' : '') + format(abs(datum.value), '.1~f')","tickSize":-10,"labelPadding":22,"title":"Energy [eV]","titlePadding":10}}},
"layer":[
{"data":{"name":"curves"},"transform":[{"filter":"datum.p=='d'"}],"mark":{"type":"line","strokeWidth":2},"encoding":{"color":{"field":"s","type":"nominal","scale":{"domain":["9, 1","9, 5","100, 1","100, 5"],"range":["#000000","#7f7f7f","#4a80d0","#2b3f9b"]},"legend":null},"strokeDash":{"field":"s","type":"nominal","scale":{"domain":["9, 1","9, 5","100, 1","100, 5"],"range":[[1,0],[6,4],[2,2],[8,3,2,3]]},"legend":null},"detail":{"field":"g"},"order":{"field":"e","sort":"descending"}}},
{"data":{"name":"bars"},"transform":[{"filter":"datum.p=='d'"}],"mark":{"type":"rule","strokeWidth":21,"color":"#d8a8a8","opacity":0.55,"strokeCap":"butt"},"encoding":{"x2":{"field":"d2"}}},
{"data":{"name":"bars"},"transform":[{"filter":"datum.p=='d'"}],"mark":{"type":"rule","strokeWidth":13,"color":"#d06a6a","opacity":0.55,"strokeCap":"butt"},"encoding":{"x2":{"field":"d2"}}},
{"data":{"name":"bars"},"transform":[{"filter":"datum.p=='d'"}],"mark":{"type":"rule","strokeWidth":5,"color":"#ee2222","opacity":1,"strokeCap":"butt"},"encoding":{"x2":{"field":"d2"}}},
{"data":{"name":"arrows"},"transform":[{"filter":"datum.p=='d' && datum.k=='up'"}],"mark":{"type":"point","shape":"triangle-up","filled":true,"size":130,"color":"#000","opacity":1}},
{"data":{"name":"arrows"},"transform":[{"filter":"datum.p=='d' && datum.k=='right'"}],"mark":{"type":"point","shape":"triangle-right","filled":true,"size":130,"color":"#000","opacity":1}},
{"data":{"name":"lab"},"transform":[{"filter":"datum.p=='d'"}],"mark":{"type":"text","align":"left","baseline":"alphabetic","font":"Lato","fontWeight":"bold","fontSize":22,"color":"#000"},"encoding":{"text":{"field":"v"}}},
{"data":{"name":"ann"},"transform":[{"filter":"datum.p=='d'"}],"mark":{"type":"text","text":"E","align":"left","baseline":"alphabetic","fontSize":23,"color":"#000"}},
{"data":{"name":"ann"},"transform":[{"filter":"datum.p=='d'"}],"mark":{"type":"text","text":"GB","align":"left","baseline":"alphabetic","fontSize":15,"dx":15,"dy":5,"color":"#000"}},
{"data":{"name":"ann"},"transform":[{"filter":"datum.p=='d'"}],"mark":{"type":"text","align":"left","baseline":"alphabetic","fontSize":23,"dx":41,"color":"#000"},"encoding":{"text":{"field":"v"}}}
]}
]}
